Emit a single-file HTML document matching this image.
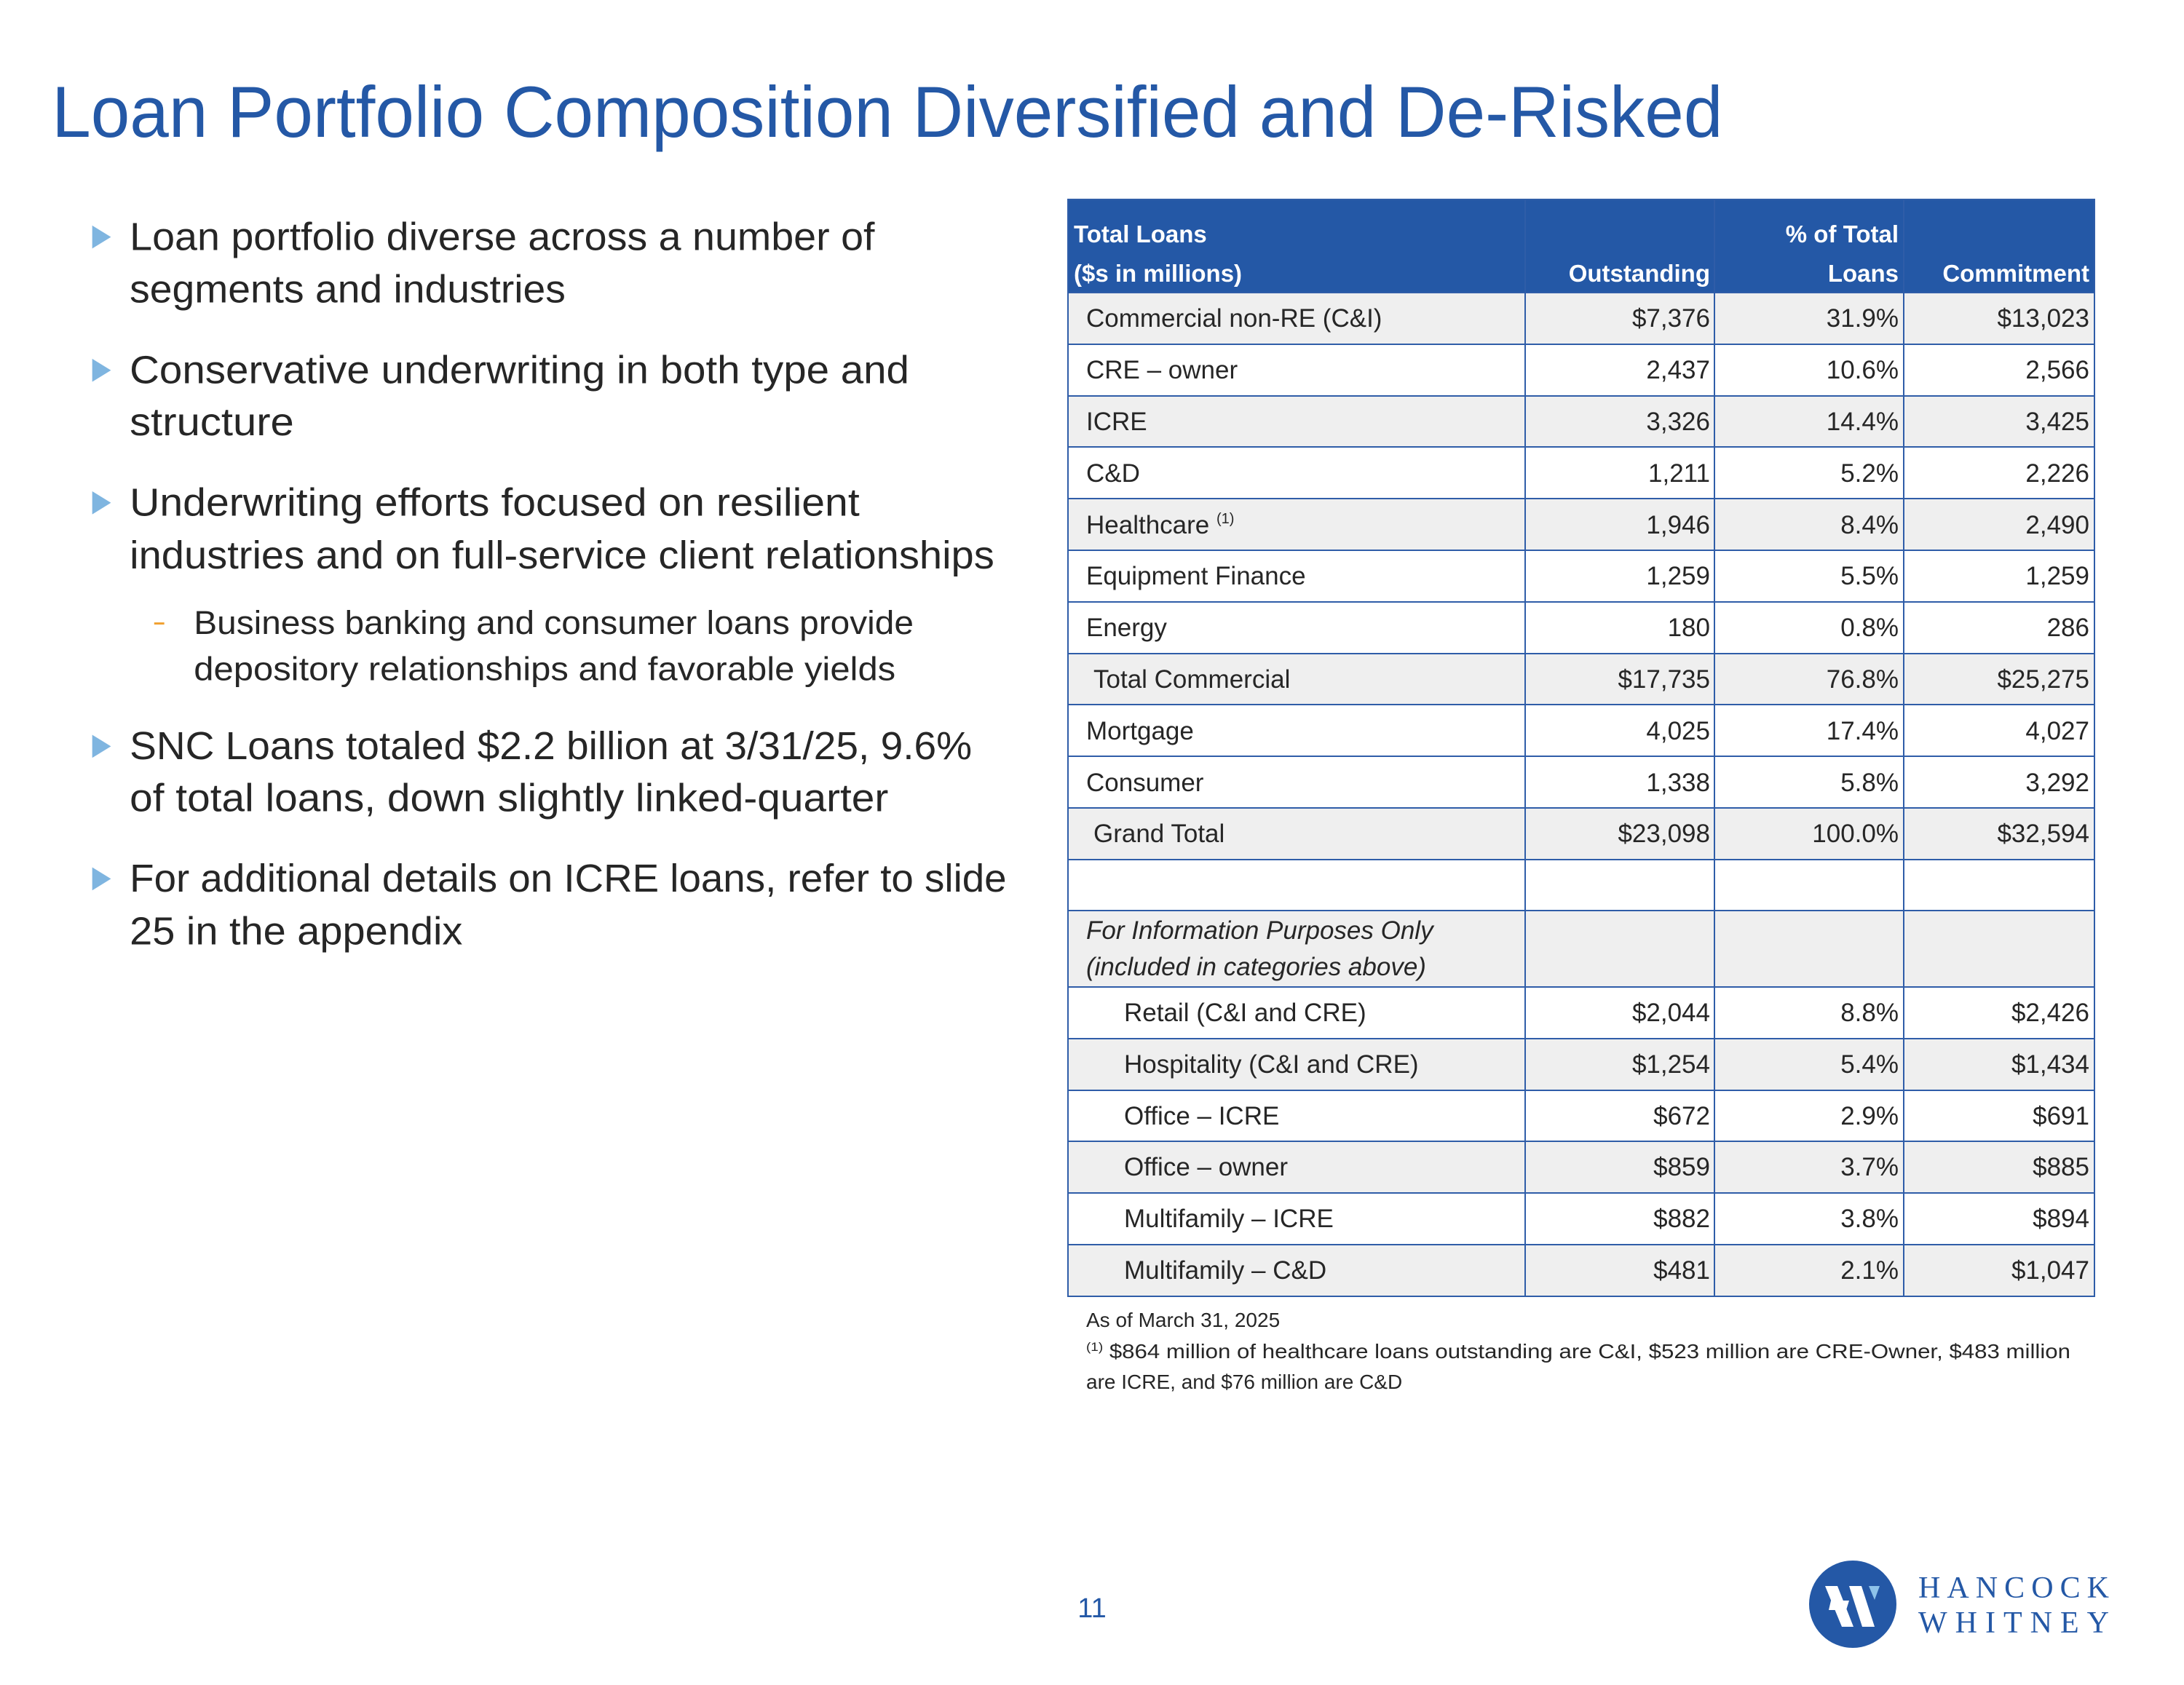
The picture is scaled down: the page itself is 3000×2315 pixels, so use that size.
<!DOCTYPE html>
<html><head><meta charset="utf-8"><style>html,body{margin:0;padding:0;background:#fff}svg{display:block}</style></head>
<body>
<svg xmlns="http://www.w3.org/2000/svg" width="3000" height="2315" viewBox="0 0 3000 2315" font-family="Liberation Sans, sans-serif">
<rect width="3000" height="2315" fill="#fff"/>
<g transform="scale(0.9897)">
<text x="72" y="190" font-size="100" fill="#2458A6" textLength="2319" lengthAdjust="spacingAndGlyphs">Loan Portfolio Composition Diversified and De-Risked</text>
<g fill="#7FB5E0">
<polygon points="128,313 154,329 128,345"/>
<polygon points="128,498 154,514 128,530"/>
<polygon points="128,682 154,698 128,714"/>
<polygon points="128,1020 154,1036 128,1052"/>
<polygon points="128,1204 154,1220 128,1236"/>
</g>
<rect x="214" y="864" width="14" height="3" fill="#F0A030"/>
<g font-size="54" fill="#262626">
<text x="180" y="347" textLength="1034" lengthAdjust="spacingAndGlyphs">Loan portfolio diverse across a number of</text>
<text x="180" y="420" textLength="605" lengthAdjust="spacingAndGlyphs">segments and industries</text>
<text x="180" y="532" textLength="1082" lengthAdjust="spacingAndGlyphs">Conservative underwriting in both type and</text>
<text x="180" y="604" textLength="228" lengthAdjust="spacingAndGlyphs">structure</text>
<text x="180" y="716" textLength="1013" lengthAdjust="spacingAndGlyphs">Underwriting efforts focused on resilient</text>
<text x="180" y="789" textLength="1200" lengthAdjust="spacingAndGlyphs">industries and on full-service client relationships</text>
<text x="269" y="880" font-size="46" textLength="999" lengthAdjust="spacingAndGlyphs">Business banking and consumer loans provide</text>
<text x="269" y="944" font-size="46" textLength="974" lengthAdjust="spacingAndGlyphs">depository relationships and favorable yields</text>
<text x="180" y="1054" textLength="1169" lengthAdjust="spacingAndGlyphs">SNC Loans totaled $2.2 billion at 3/31/25, 9.6%</text>
<text x="180" y="1126" textLength="1053" lengthAdjust="spacingAndGlyphs">of total loans, down slightly linked-quarter</text>
<text x="180" y="1238" textLength="1217" lengthAdjust="spacingAndGlyphs">For additional details on ICRE loans, refer to slide</text>
<text x="180" y="1311" textLength="462" lengthAdjust="spacingAndGlyphs">25 in the appendix</text>
</g>
</g>

<rect x="1467" y="274" width="1410" height="128" fill="#2458A6"/>
<g fill="#EFEFEF">
<rect x="1467" y="402" width="1410" height="71"/>
<rect x="1467" y="544" width="1410" height="70"/>
<rect x="1467" y="685" width="1410" height="71"/>
<rect x="1467" y="898" width="1410" height="70"/>
<rect x="1467" y="1110" width="1410" height="71"/>
<rect x="1467" y="1251" width="1410" height="105"/>
<rect x="1467" y="1427" width="1410" height="71"/>
<rect x="1467" y="1568" width="1410" height="71"/>
<rect x="1467" y="1710" width="1410" height="71"/>
</g>
<g stroke="#2F5DA8" stroke-width="2" fill="none">
<rect x="1467" y="274" width="1410" height="1507"/>
<line x1="2095" y1="274" x2="2095" y2="1781"/>
<line x1="2355" y1="274" x2="2355" y2="1781"/>
<line x1="2615" y1="274" x2="2615" y2="1781"/>
<path d="M1467 402H2877M1467 473H2877M1467 544H2877M1467 614H2877M1467 685H2877M1467 756H2877M1467 827H2877M1467 898H2877M1467 968H2877M1467 1039H2877M1467 1110H2877M1467 1181H2877M1467 1251H2877M1467 1356H2877M1467 1427H2877M1467 1498H2877M1467 1568H2877M1467 1639H2877M1467 1710H2877"/>
</g>
<g fill="#fff" font-weight="bold" font-size="33">
<text x="1475" y="333">Total Loans</text>
<text x="1475" y="387">($s in millions)</text>
<text x="2349" y="387" text-anchor="end">Outstanding</text>
<text x="2608" y="333" text-anchor="end">% of Total</text>
<text x="2608" y="387" text-anchor="end">Loans</text>
<text x="2870" y="387" text-anchor="end">Commitment</text>
</g>
<g font-size="35" fill="#262626">
<text x="1492" y="449">Commercial non-RE (C&amp;I)</text>
<text x="1492" y="520">CRE – owner</text>
<text x="1492" y="591">ICRE</text>
<text x="1492" y="662">C&amp;D</text>
<text x="1492" y="733">Healthcare <tspan font-size="20" dy="-14">(1)</tspan></text>
<text x="1492" y="803">Equipment Finance</text>
<text x="1492" y="874">Energy</text>
<text x="1502" y="945">Total Commercial</text>
<text x="1492" y="1016">Mortgage</text>
<text x="1492" y="1087">Consumer</text>
<text x="1502" y="1157">Grand Total</text>
<text x="1492" y="1290" font-style="italic">For Information Purposes Only</text>
<text x="1492" y="1340" font-style="italic">(included in categories above)</text>
<text x="1544" y="1403">Retail (C&amp;I and CRE)</text>
<text x="1544" y="1474">Hospitality (C&amp;I and CRE)</text>
<text x="1544" y="1545">Office – ICRE</text>
<text x="1544" y="1615">Office – owner</text>
<text x="1544" y="1686">Multifamily – ICRE</text>
<text x="1544" y="1757">Multifamily – C&amp;D</text>
</g>
<g font-size="35" fill="#262626" text-anchor="end">
<text x="2349" y="449">$7,376</text><text x="2608" y="449">31.9%</text><text x="2870" y="449">$13,023</text>
<text x="2349" y="520">2,437</text><text x="2608" y="520">10.6%</text><text x="2870" y="520">2,566</text>
<text x="2349" y="591">3,326</text><text x="2608" y="591">14.4%</text><text x="2870" y="591">3,425</text>
<text x="2349" y="662">1,211</text><text x="2608" y="662">5.2%</text><text x="2870" y="662">2,226</text>
<text x="2349" y="733">1,946</text><text x="2608" y="733">8.4%</text><text x="2870" y="733">2,490</text>
<text x="2349" y="803">1,259</text><text x="2608" y="803">5.5%</text><text x="2870" y="803">1,259</text>
<text x="2349" y="874">180</text><text x="2608" y="874">0.8%</text><text x="2870" y="874">286</text>
<text x="2349" y="945">$17,735</text><text x="2608" y="945">76.8%</text><text x="2870" y="945">$25,275</text>
<text x="2349" y="1016">4,025</text><text x="2608" y="1016">17.4%</text><text x="2870" y="1016">4,027</text>
<text x="2349" y="1087">1,338</text><text x="2608" y="1087">5.8%</text><text x="2870" y="1087">3,292</text>
<text x="2349" y="1157">$23,098</text><text x="2608" y="1157">100.0%</text><text x="2870" y="1157">$32,594</text>
<text x="2349" y="1403">$2,044</text><text x="2608" y="1403">8.8%</text><text x="2870" y="1403">$2,426</text>
<text x="2349" y="1474">$1,254</text><text x="2608" y="1474">5.4%</text><text x="2870" y="1474">$1,434</text>
<text x="2349" y="1545">$672</text><text x="2608" y="1545">2.9%</text><text x="2870" y="1545">$691</text>
<text x="2349" y="1615">$859</text><text x="2608" y="1615">3.7%</text><text x="2870" y="1615">$885</text>
<text x="2349" y="1686">$882</text><text x="2608" y="1686">3.8%</text><text x="2870" y="1686">$894</text>
<text x="2349" y="1757">$481</text><text x="2608" y="1757">2.1%</text><text x="2870" y="1757">$1,047</text>
</g>
<g font-size="28" fill="#262626">
<text x="1492" y="1823">As of March 31, 2025</text>
<text x="1492" y="1866" textLength="1352" lengthAdjust="spacingAndGlyphs"><tspan font-size="17" dy="-10">(1)</tspan><tspan dy="10"> $864 million of healthcare loans outstanding are C&amp;I, $523 million are CRE-Owner, $483 million</tspan></text>
<text x="1492" y="1908">are ICRE, and $76 million are C&amp;D</text>
</g>
<text x="1500" y="2222" font-size="38" fill="#2458A6" text-anchor="middle">11</text>

<circle cx="2545" cy="2204" r="60" fill="#2458A6"/>
<polygon points="2507,2179 2524,2179 2546,2235 2530,2235" fill="#fff"/>
<polygon points="2515,2199 2540,2199 2536,2212 2512,2212" fill="#fff"/>
<polygon points="2540,2179 2557,2179 2575,2235 2558,2235" fill="#fff"/>
<polygon points="2567,2179 2582,2179 2575,2198" fill="#8EC3EA"/>
<g font-family="Liberation Serif, serif" font-size="42" fill="#2458A6">
<text x="2635" y="2195" textLength="262" lengthAdjust="spacing">HANCOCK</text>
<text x="2635" y="2243" textLength="262" lengthAdjust="spacing">WHITNEY</text>
</g>
</svg>
</body></html>
